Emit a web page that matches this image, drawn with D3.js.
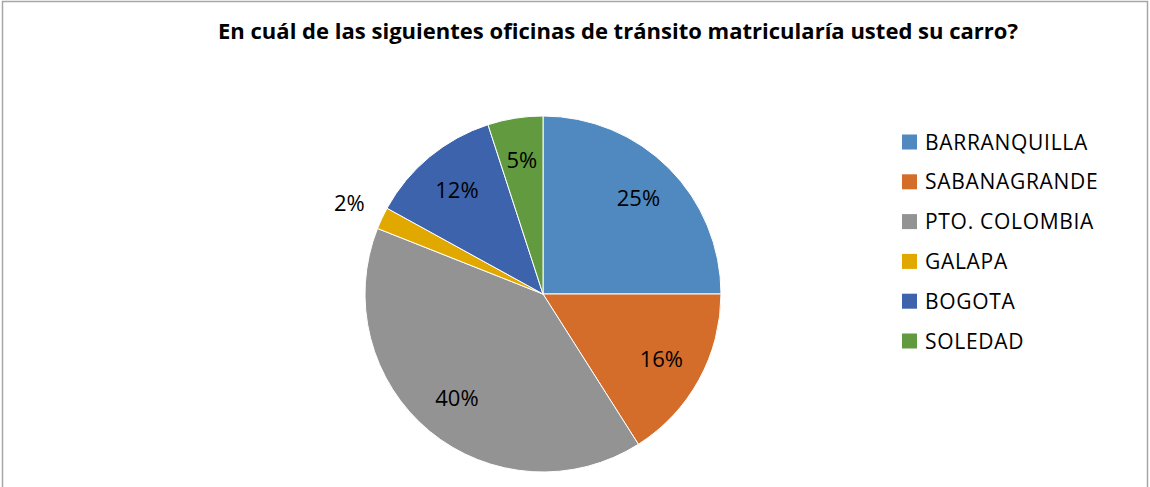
<!DOCTYPE html>
<html>
<head>
<meta charset="utf-8">
<script src="https://cdnjs.cloudflare.com/ajax/libs/d3/7.8.5/d3.min.js"></script>
<style>
  body { margin: 0; background: #fff; }
  svg { display: block; }
</style>
</head>
<body>
<div id="chart"></div>
<script>
const categories = ["BARRANQUILLA", "SABANAGRANDE", "PTO. COLOMBIA", "GALAPA", "BOGOTA", "SOLEDAD"];
const values = [25, 16, 40, 2, 12, 5];
const colors = ["#4F89BF", "#D46D2A", "#939393", "#E1A900", "#3C63AC", "#629A3F"];
const title = "En cuál de las siguientes oficinas de tránsito matricularía usted su carro?";

const width = 1150, height = 487;
const cx = 543, cy = 294, radius = 178;

const svg = d3.select("#chart").append("svg")
    .attr("width", width)
    .attr("height", height);

svg.append("rect")
    .attr("x", 2.5).attr("y", 1.5)
    .attr("width", width - 5).attr("height", height + 10)
    .attr("fill", "#fff")
    .attr("stroke", "#a6a6a6")
    .attr("stroke-width", 1.5);

svg.append("text")
    .attr("x", 618).attr("y", 39)
    .attr("text-anchor", "middle")
    .attr("font-family", "Open Sans, sans-serif")
    .attr("font-weight", "bold")
    .attr("font-size", 21)
    .attr("textLength", 800)
    .attr("lengthAdjust", "spacingAndGlyphs")
    .text(title);

const color = d3.scaleOrdinal().domain(categories).range(colors);
const data = categories.map((c, i) => ({ name: c, value: values[i] }));
const pie = d3.pie().value(d => d.value).sort(null);
const arc = d3.arc().innerRadius(0).outerRadius(radius);
const labelArc = d3.arc().innerRadius(90).outerRadius(180);
const outerArc = d3.arc().innerRadius(214).outerRadius(214);
const total = d3.sum(values);

const g = svg.append("g").attr("transform", `translate(${cx},${cy})`);
const arcs = pie(data);

g.selectAll("path")
    .data(arcs)
    .join("path")
    .attr("d", arc)
    .attr("fill", d => color(d.data.name))
    .attr("stroke", "#fff")
    .attr("stroke-width", 1);

g.selectAll("text")
    .data(arcs)
    .join("text")
    .attr("transform", d => {
        const p = (d.data.value / total < 0.03 ? outerArc : labelArc).centroid(d);
        return `translate(${p[0]},${p[1]})`;
    })
    .attr("text-anchor", "middle")
    .attr("dy", "0.35em")
    .attr("font-family", "Open Sans, sans-serif")
    .attr("font-size", 22)
    .attr("fill", "#000")
    .text(d => Math.round(d.data.value / total * 100) + "%");

const legend = svg.append("g").attr("transform", "translate(902,142)");
const row = legend.selectAll("g")
    .data(categories)
    .join("g")
    .attr("transform", (d, i) => `translate(0,${i * 39.8})`);

row.append("rect")
    .attr("x", 0).attr("y", -7.5)
    .attr("width", 15).attr("height", 15)
    .attr("fill", d => color(d));

row.append("text")
    .attr("x", 23).attr("y", 0)
    .attr("dy", "0.36em")
    .attr("font-family", "Open Sans, sans-serif")
    .attr("font-size", 21)
    .attr("letter-spacing", 0.7)
    .attr("fill", "#000")
    .text(d => d);
</script>
</body>
</html>
